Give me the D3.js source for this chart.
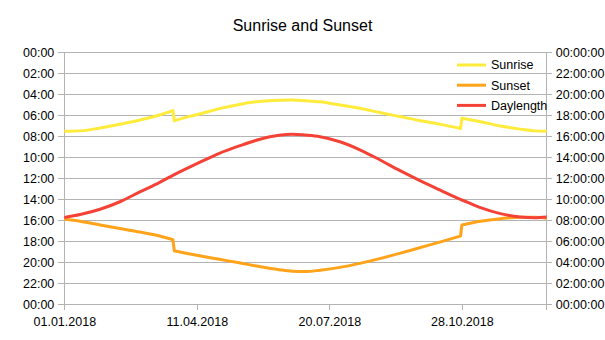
<!DOCTYPE html>
<html>
<head>
<meta charset="utf-8">
<script src="https://cdn.jsdelivr.net/npm/d3@7"></script>
<style>
  html, body { margin: 0; padding: 0; background: #fff; }
  svg { display: block; font-family: "Liberation Sans", Arial, sans-serif; }
</style>
</head>
<body>
<svg id="chart" width="605" height="340"></svg>
<script>
// Sample dates across 2018 (the day pairs around 25.03 and 28.10 carry the clock change)
const dates = [
  "2018-01-01", "2018-01-13", "2018-01-28", "2018-02-12", "2018-02-27", "2018-03-14",
  "2018-03-24", "2018-03-25", "2018-04-02", "2018-04-13", "2018-04-28", "2018-05-13",
  "2018-05-28", "2018-06-12", "2018-06-22", "2018-07-02", "2018-07-13", "2018-07-28",
  "2018-08-12", "2018-08-27", "2018-09-11", "2018-09-26", "2018-10-12", "2018-10-27",
  "2018-10-28", "2018-11-11", "2018-11-26", "2018-12-11", "2018-12-22", "2018-12-31"
];

// Local clock time of sunrise
const sunrise = [
  "07:31", "07:29", "07:12", "06:51", "06:27", "05:58",
  "05:33", "06:31", "06:13", "05:53", "05:22", "04:58",
  "04:41", "04:34", "04:33", "04:37", "04:43", "05:01",
  "05:20", "05:44", "06:07", "06:30", "06:52", "07:15",
  "06:17", "06:37", "07:01", "07:19", "07:29", "07:31"
];

// Local clock time of sunset
const sunset = [
  "15:53", "16:06", "16:27", "16:47", "17:07", "17:30",
  "17:51", "18:55", "19:07", "19:23", "19:43", "20:03",
  "20:24", "20:42", "20:51", "20:53", "20:45", "20:29",
  "20:06", "19:39", "19:09", "18:37", "18:03", "17:30",
  "16:27", "16:06", "15:51", "15:42", "15:43", "15:48"
];

// Length of the day (hours:minutes)
const daylength = [
  "8:16", "8:33", "9:03", "9:46", "10:42", "11:37",
  "12:17", "12:21", "12:51", "13:31", "14:23", "15:05",
  "15:42", "16:06", "16:12", "16:07", "15:58", "15:29",
  "14:43", "13:46", "12:45", "11:48", "10:51", "9:59",
  "9:56", "9:12", "8:38", "8:19", "8:15", "8:19"
];

// Axis ticks
const xTickDates = ["2018-01-01", "2018-04-11", "2018-07-20", "2018-10-28"];
const hourTicks = [0, 2, 4, 6, 8, 10, 12, 14, 16, 18, 20, 22, 24];

const seriesNames = ["Sunrise", "Sunset", "Daylength"];
const seriesColors = ["#ffeb3b", "#ffa31a", "#f44336"];

const parseDate = d3.utcParse("%Y-%m-%d");
const toHours = s => { const [h, m] = s.split(":").map(Number); return h + m / 60; };

const svg = d3.select("#chart");
const plotLeft = 64.3, plotRight = 546.7, plotTop = 52.3, plotBottom = 304.3;

const x = d3.scaleUtc()
  .domain([parseDate("2018-01-01"), parseDate("2018-12-31")])
  .range([plotLeft, plotRight]);
// clock times: midnight on top, running downward
const yClock = d3.scaleLinear().domain([0, 24]).range([plotTop, plotBottom]);
// durations: zero at the bottom
const yDur = d3.scaleLinear().domain([0, 24]).range([plotBottom, plotTop]);

const gridColor = "#b3b3b3";
const pad = n => String(n % 24).padStart(2, "0");

// horizontal grid
svg.append("g")
  .selectAll("line")
  .data(hourTicks)
  .join("line")
  .attr("x1", plotLeft).attr("x2", plotRight)
  .attr("y1", d => yClock(d)).attr("y2", d => yClock(d))
  .attr("stroke", gridColor).attr("stroke-width", 1)
  .attr("shape-rendering", "crispEdges");

const fontSize = "12.5px";

// left axis (clock time)
const leftAxis = svg.append("g")
  .attr("transform", `translate(${plotLeft},0)`)
  .call(d3.axisLeft(yClock).tickValues(hourTicks).tickSize(6).tickPadding(4)
    .tickFormat(d => pad(d) + ":00"));

// right axis (duration)
const rightAxis = svg.append("g")
  .attr("transform", `translate(${plotRight},0)`)
  .call(d3.axisRight(yDur).tickValues(hourTicks).tickSize(5).tickPadding(4)
    .tickFormat(d => pad(d) + ":00:00"));

// bottom axis (dates)
const bottomAxis = svg.append("g")
  .attr("transform", `translate(0,${plotBottom})`)
  .call(d3.axisBottom(x).tickValues(xTickDates.map(parseDate)).tickSize(6).tickPadding(7)
    .tickFormat(d3.utcFormat("%d.%m.%Y")));

[leftAxis, rightAxis, bottomAxis].forEach(g => {
  g.selectAll(".domain").attr("stroke", gridColor).attr("shape-rendering", "crispEdges");
  g.selectAll(".tick line").attr("stroke", gridColor).attr("shape-rendering", "crispEdges");
  g.selectAll("text").attr("fill", "#000").style("font-size", fontSize)
    .style("font-family", '"Liberation Sans", Arial, sans-serif');
});
// plain domain lines without outer ticks
leftAxis.select(".domain").attr("d", `M0,${plotTop}V${plotBottom}`);
rightAxis.select(".domain").attr("d", `M0,${plotTop}V${plotBottom}`);
bottomAxis.select(".domain").attr("d", `M${plotLeft},0H${plotRight}`);
// closing date tick on the right edge
svg.append("line")
  .attr("x1", plotRight).attr("x2", plotRight).attr("y1", plotBottom).attr("y2", plotBottom + 6)
  .attr("stroke", gridColor).attr("shape-rendering", "crispEdges");

// continuous path: smooth within each run of days, straight across one-day clock jumps
function seriesPath(values, yScale) {
  const pts = dates.map((d, i) => ({ t: parseDate(d), v: toHours(values[i]) }));
  const runs = [];
  let cur = [pts[0]];
  for (let i = 1; i < pts.length; i++) {
    const gapDays = (pts[i].t - pts[i - 1].t) / 864e5;
    const jump = Math.abs(pts[i].v - pts[i - 1].v) > 0.5 && gapDays <= 1;
    if (jump) { runs.push(cur); cur = [pts[i]]; } else cur.push(pts[i]);
  }
  runs.push(cur);
  const gen = d3.line().x(p => x(p.t)).y(p => yScale(p.v)).curve(d3.curveMonotoneX);
  return runs.map((r, i) => {
    const s = r.length > 1 ? gen(r) : `M${x(r[0].t)},${yScale(r[0].v)}`;
    return i === 0 ? s : "L" + s.slice(1);
  }).join("");
}

const series = [
  { values: sunrise, scale: yClock },
  { values: sunset, scale: yClock },
  { values: daylength, scale: yDur }
];

svg.append("g")
  .selectAll("path")
  .data(series)
  .join("path")
  .attr("d", s => seriesPath(s.values, s.scale))
  .attr("fill", "none")
  .attr("stroke", (s, i) => seriesColors[i])
  .attr("stroke-width", 3)
  .attr("stroke-linejoin", "round");

// legend
const legend = svg.append("g").attr("transform", "translate(457,65)");
const item = legend.selectAll("g")
  .data(seriesNames)
  .join("g")
  .attr("transform", (d, i) => `translate(0,${i * 20.2})`);
item.append("line")
  .attr("x1", 0).attr("x2", 29).attr("y1", 0).attr("y2", 0)
  .attr("stroke", (d, i) => seriesColors[i]).attr("stroke-width", 3);
item.append("text")
  .attr("x", 34).attr("y", 0).attr("dy", "0.35em")
  .style("font-size", fontSize).attr("fill", "#000")
  .text(d => d);

// title
svg.append("text")
  .attr("x", 302.5).attr("y", 31)
  .attr("text-anchor", "middle")
  .style("font-size", "16px").attr("fill", "#000")
  .text("Sunrise and Sunset");
</script>
</body>
</html>
